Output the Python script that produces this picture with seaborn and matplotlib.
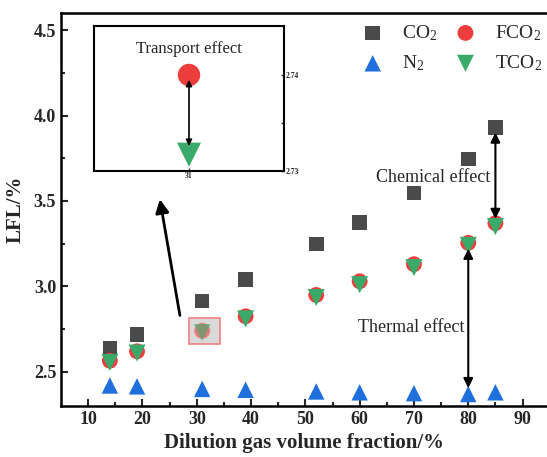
import matplotlib
matplotlib.use("Agg")
import matplotlib.pyplot as plt
import seaborn as sns
import pandas as pd
from matplotlib.patches import Rectangle

x = [14, 19, 31, 39, 52, 60, 70, 80, 85]
co2 = [2.64, 2.72, 2.915, 3.04, 3.247, 3.375, 3.547, 3.745, 3.93]
fco2 = [2.565, 2.62, 2.74, 2.825, 2.95, 3.03, 3.13, 3.255, 3.37]
tco2 = [2.555, 2.61, 2.73, 2.81, 2.935, 3.01, 3.11, 3.24, 3.35]
n2 = [2.42, 2.415, 2.40, 2.395, 2.385, 2.38, 2.375, 2.37, 2.38]

inset_x = [31]
inset_f = [2.74]
inset_t = [2.7317]

sns.set_theme(style="ticks")
plt.rcParams['font.family'] = ['Liberation Serif', 'DejaVu Serif']
plt.rcParams['mathtext.fontset'] = 'custom'
plt.rcParams['mathtext.rm'] = 'Liberation Serif'
plt.rcParams['mathtext.it'] = 'Liberation Serif:italic'
plt.rcParams['mathtext.bf'] = 'Liberation Serif:bold'

fig = plt.figure(figsize=(5.47, 4.57), dpi=100)
ax = fig.add_axes([61/547, 1-406/457, (547-61)/547, (406-13)/457])

c_co2 = '#4a4a4a'
c_f = '#ee3d3d'
c_n = '#1f6fdd'
c_t = '#3aaa6a'

df = pd.DataFrame({'x': x, 'co2': co2, 'fco2': fco2, 'tco2': tco2, 'n2': n2})

sns.scatterplot(data=df, x='x', y='co2', marker='s', s=110, color=c_co2, edgecolor='none', ax=ax, label='CO$_2$', zorder=3)
sns.scatterplot(data=df, x='x', y='n2', marker='^', s=140, color=c_n, edgecolor='none', ax=ax, label='N$_2$', zorder=3)
sns.scatterplot(data=df, x='x', y='fco2', marker='o', s=130, color=c_f, edgecolor='none', ax=ax, label='FCO$_2$', zorder=3)
sns.scatterplot(data=df, x='x', y='tco2', marker='v', s=150, color=c_t, edgecolor='none', ax=ax, label='TCO$_2$', zorder=4)

# highlight box at x=31
ax.add_patch(Rectangle((28.5, 2.66), 5.8, 0.155, facecolor='#d9d9d9', edgecolor='#f08080', lw=1.2, zorder=5))
ax.scatter([31], [2.74], marker='o', s=130, color=c_f, alpha=0.6, edgecolor='none', zorder=6)
ax.scatter([31], [2.73], marker='v', s=150, color=c_t, alpha=0.6, edgecolor='none', zorder=6)

ax.set_xlim(5, 94.5)
ax.set_ylim(2.3, 4.6)
ax.set_xticks([10, 20, 30, 40, 50, 60, 70, 80, 90])
ax.set_xticks([15, 25, 35, 45, 55, 65, 75, 85], minor=True)
ax.set_yticks([2.5, 3.0, 3.5, 4.0, 4.5])
ax.set_yticks([2.75, 3.25, 3.75, 4.25], minor=True)
ax.tick_params(axis='both', which='major', direction='in', length=5, width=1.5, labelsize=13)
ax.tick_params(axis='both', which='minor', direction='in', length=3, width=1.5)
for lab in ax.get_xticklabels() + ax.get_yticklabels():
    lab.set_fontweight('bold')
for sp in ['left', 'bottom', 'top']:
    ax.spines[sp].set_linewidth(1.8)
    ax.spines[sp].set_color('black')
ax.spines['right'].set_visible(False)
ax.set_xlabel('Dilution gas volume fraction/%', fontsize=15, fontweight='bold', labelpad=4)
ax.set_ylabel('LFL/%', fontsize=15, fontweight='bold', labelpad=6)

h, l = ax.get_legend_handles_labels()
ax.legend(h, l, loc='upper left', bbox_to_anchor=(363/547, 1-23/457), bbox_transform=fig.transFigure,
          ncol=2, frameon=False, fontsize=14, handlelength=1.0, handletextpad=1.0,
          columnspacing=0.95, labelspacing=0.55, borderpad=0, borderaxespad=0)

# arrows
arrow_kw = dict(arrowstyle='<|-|>', color='black', lw=1.5, mutation_scale=14, shrinkA=0, shrinkB=0)
ax.annotate('', xy=(85, 3.9), xytext=(85, 3.395), arrowprops=arrow_kw, zorder=7)
ax.annotate('', xy=(80, 3.22), xytext=(80, 2.405), arrowprops=arrow_kw, zorder=7)
ax.text(73.5, 3.635, 'Chemical effect', ha='center', va='center', fontsize=13)
ax.text(69.5, 2.76, 'Thermal effect', ha='center', va='center', fontsize=13)
ax.annotate('', xy=(23.2, 3.51), xytext=(26.9, 2.83),
            arrowprops=dict(arrowstyle='-|>', color='black', lw=2, mutation_scale=20, shrinkA=0, shrinkB=0))

# inset
ins = fig.add_axes([94/547, 1-171/457, (284-94)/547, (171-26)/457])
ins.scatter(inset_x, inset_f, marker='o', s=260, color=c_f, edgecolor='none', zorder=3)
ins.scatter(inset_x, inset_t, marker='v', s=300, color=c_t, edgecolor='none', zorder=3)
ins.annotate('', xy=(31, 2.7395), xytext=(31, 2.7326),
             arrowprops=dict(arrowstyle='<|-|>', color='black', lw=1.2, mutation_scale=9, shrinkA=0, shrinkB=0))
ins.text(31, 2.7427, 'Transport effect', ha='center', va='center', fontsize=12)
ins.set_xlim(29.5, 32.5)
ins.set_ylim(2.73, 2.7451)
ins.set_xticks([31])
ins.set_yticks([2.73, 2.74])
ins.set_yticks([2.735], minor=True)
ins.yaxis.tick_right()
ins.tick_params(axis='both', which='both', direction='in', length=2, width=1, labelsize=5.5, pad=1)
ins.set_yticklabels(['2.73', '2.74'], fontweight='bold')
ins.set_xticklabels(['31'], fontweight='bold')
for sp in ins.spines.values():
    sp.set_linewidth(1.5)
    sp.set_color('black')

fig.savefig('out.png', dpi=100)
